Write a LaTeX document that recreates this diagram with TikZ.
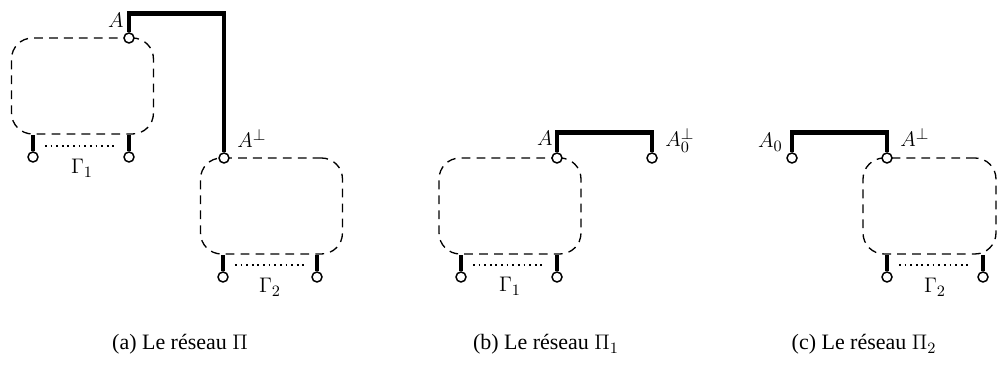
\documentclass[tikz,border=0pt]{standalone}
\usepackage{fontspec}
\setmainfont{Liberation Serif}
\usetikzlibrary{positioning}

\tikzstyle{blocstyle} = [rectangle, 
minimum width=2.84cm, 
minimum height=1.92cm,
draw=black,
dash pattern=on 5pt off 3.5pt,
line width=0.75pt,
rounded corners=0.42cm]
\tikzstyle{bornestyle} = [circle, 
minimum size=0.2cm, 
inner sep=0pt,
draw=black,
line width=0.85pt,
fill=white]
\tikzstyle{etiqstyle} = [inner sep=0pt, font=\fontsize{13}{15}\selectfont]
\tikzstyle{legendestyle} = [inner sep=0pt, font=\fontsize{12.5}{15}\selectfont]
\tikzstyle{fil} = [line width=2.7pt]
\tikzstyle{pointille} = [line width=1pt, dash pattern=on 1pt off 2.2pt]

\begin{document}
\begin{tikzpicture}[x=0.02cm, y=0.02cm]
\useasboundingbox (0,0) rectangle (998,365);

% (a) le reseau Pi
\node (bloc1) [blocstyle] at (82.5,279) {};
\node (bloc2) [blocstyle] at (271.5,159) {};

\node (A1) [bornestyle] at (129,327) {};
\node (Ap1) [bornestyle] at (224,207) {};
\node (t1a) [bornestyle] at (33,208) {};
\node (t1b) [bornestyle] at (129,208) {};
\node (t2a) [bornestyle] at (223,88) {};
\node (t2b) [bornestyle] at (317,88) {};

\draw [fil] (A1.north) -- ++(0,19) -| (Ap1.north);
\draw [fil] (t1a.north) -- (t1a |- bloc1.south);
\draw [fil] (t1b.north) -- (t1b |- bloc1.south);
\draw [fil] (t2a.north) -- (t2a |- bloc2.south);
\draw [fil] (t2b.north) -- (t2b |- bloc2.south);
\draw [pointille] ([xshift=0.24cm,yshift=0.22cm]t1a.center) -- ([xshift=-0.24cm,yshift=0.22cm]t1b.center);
\draw [pointille] ([xshift=0.24cm,yshift=0.24cm]t2a.center) -- ([xshift=-0.24cm,yshift=0.24cm]t2b.center);

\node (lA1) [etiqstyle, anchor=base east] at (124,337) {$A$};
\node (lAp1) [etiqstyle, anchor=base west] at (237,217) {$A^\perp$};
\node (lG1) [etiqstyle, anchor=base] at (82,191) {$\Gamma_1$};
\node (lG2) [etiqstyle, anchor=base] at (270,72) {$\Gamma_2$};

% (b) le reseau Pi_1
\node (bloc3) [blocstyle] at (510,159) {};

\node (A3) [bornestyle] at (557,207) {};
\node (A03) [bornestyle] at (652,207) {};
\node (t3a) [bornestyle] at (461,88) {};
\node (t3b) [bornestyle] at (557,88) {};

\draw [fil] (A3.north) -- ++(0,20) -| (A03.north);
\draw [fil] (t3a.north) -- (t3a |- bloc3.south);
\draw [fil] (t3b.north) -- (t3b |- bloc3.south);
\draw [pointille] ([xshift=0.24cm,yshift=0.24cm]t3a.center) -- ([xshift=-0.24cm,yshift=0.24cm]t3b.center);

\node (lA3) [etiqstyle, anchor=base east] at (553,219) {$A$};
\node (lA03) [etiqstyle, anchor=base west] at (665,218) {$A_0^\perp$};
\node (lG3) [etiqstyle, anchor=base] at (510,73) {$\Gamma_1$};

% (c) le reseau Pi_2
\node (bloc4) [blocstyle, minimum width=2.66cm] at (929.5,159) {};

\node (A04) [bornestyle] at (792,207) {};
\node (Ap4) [bornestyle] at (887,207) {};
\node (t4a) [bornestyle] at (887,88) {};
\node (t4b) [bornestyle] at (983,88) {};

\draw [fil] (A04.north) -- ++(0,20) -| (Ap4.north);
\draw [fil] (t4a.north) -- (t4a |- bloc4.south);
\draw [fil] (t4b.north) -- (t4b |- bloc4.south);
\draw [pointille] ([xshift=0.24cm,yshift=0.24cm]t4a.center) -- ([xshift=-0.24cm,yshift=0.24cm]t4b.center);

\node (lA04) [etiqstyle, anchor=base east] at (783,217) {$A_0$};
\node (lAp4) [etiqstyle, anchor=base west] at (900,218) {$A^\perp$};
\node (lG4) [etiqstyle, anchor=base] at (935,72) {$\Gamma_2$};

% legendes
\node (lega) [legendestyle, anchor=base] at (180,15) {(a) Le réseau $\Pi$};
\node (legb) [legendestyle, anchor=base] at (546,15) {(b) Le réseau $\Pi_1$};
\node (legc) [legendestyle, anchor=base] at (864,15) {(c) Le réseau $\Pi_2$};
\end{tikzpicture}
\end{document}
